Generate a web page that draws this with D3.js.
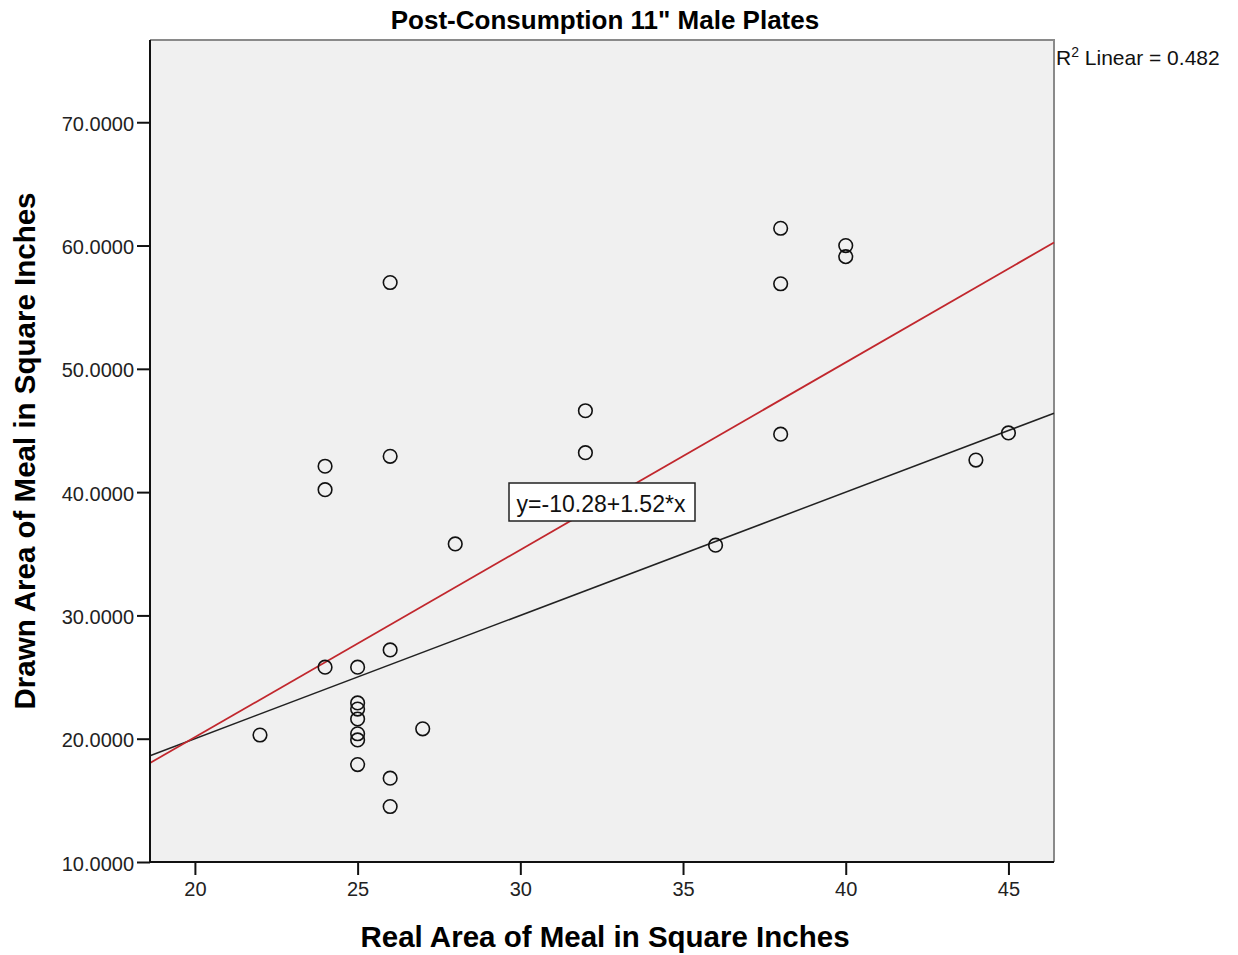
<!DOCTYPE html>
<html>
<head>
<meta charset="utf-8">
<script src="https://cdn.jsdelivr.net/npm/d3@7"></script>
<style>
  body { margin: 0; background: #fff; }
  text { font-family: "Liberation Sans", Arial, sans-serif; }
</style>
</head>
<body>
<div id="chart-area"></div>
<script>
// data
var realArea  = [22, 24, 24, 24, 25, 25, 25, 25, 25, 25, 25, 26, 26, 26, 26, 26, 27, 28, 32, 32, 36, 38, 38, 38, 40, 40, 44, 45];
var drawnArea = [20.3, 25.8, 42.1, 40.2, 25.8, 22.9, 22.4, 21.6, 20.4, 19.9, 17.9, 57.0, 42.9, 27.2, 16.8, 14.5, 20.8, 35.8, 46.6, 43.2, 35.7, 61.4, 56.9, 44.7, 60.0, 59.1, 42.6, 44.8];

var xTicks = [20, 25, 30, 35, 40, 45];
var yTicks = [10, 20, 30, 40, 50, 60, 70];

var fitIntercept = -10.28;
var fitSlope = 1.52;
var rSquared = 0.482;

var margin = { top: 40, right: 184, bottom: 93, left: 150 };
var width = 1238 - margin.left - margin.right;
var height = 955 - margin.top - margin.bottom;

var svg = d3.select('#chart-area')
    .append("svg")
        .attr("width", 1238)
        .attr("height", 955);

var g = svg.append("g")
    .attr("transform", "translate(" + margin.left + ", " + margin.top + ")");

var x = d3.scaleLinear()
    .domain([18.62, 46.4])
    .range([0, width]);

var y = d3.scaleLinear()
    .domain([10, 76.67])
    .range([height, 0]);

// plot background
g.append("rect")
    .attr("width", width)
    .attr("height", height)
    .style("fill", "#f0f0f0");

// top + right frame (grey)
g.append("path")
    .attr("d", "M0,0H" + width + "V" + height)
    .style("fill", "none")
    .style("stroke", "#8a8a8a")
    .style("stroke-width", 2);

// reference line y = x
var xd = x.domain();
g.append("line")
    .attr("x1", x(xd[0])).attr("y1", y(xd[0]))
    .attr("x2", x(xd[1])).attr("y2", y(xd[1]))
    .style("stroke", "#222")
    .style("stroke-width", 1.5);

// fit line
g.append("line")
    .attr("x1", x(xd[0])).attr("y1", y(fitIntercept + fitSlope * xd[0]))
    .attr("x2", x(xd[1])).attr("y2", y(fitIntercept + fitSlope * xd[1]))
    .style("stroke", "#c1272d")
    .style("stroke-width", 1.8);

// points
g.selectAll("circle")
    .data(realArea)
    .enter()
    .append("circle")
        .attr("cx", function(d) { return x(d); })
        .attr("cy", function(d, i) { return y(drawnArea[i]); })
        .attr("r", 6.8)
        .style("fill", "none")
        .style("stroke", "#111")
        .style("stroke-width", 1.6);

// equation label
var eq = g.append("g")
    .attr("transform", "translate(" + (509 - margin.left) + "," + (483 - margin.top) + ")");
eq.append("rect")
    .attr("width", 186)
    .attr("height", 38)
    .style("fill", "#fff")
    .style("stroke", "#222")
    .style("stroke-width", 1.5);
eq.append("text")
    .attr("x", 92)
    .attr("y", 29)
    .attr("text-anchor", "middle")
    .style("font-size", "23px")
    .style("fill", "#111")
    .text("y=" + fitIntercept.toFixed(2) + "+" + fitSlope.toFixed(2) + "*x");

// axes
var xAxisCall = d3.axisBottom(x)
    .tickValues(xTicks)
    .tickSize(13)
    .tickSizeOuter(0)
    .tickPadding(7);
var xAxis = g.append("g")
    .attr("class", "x-axis")
    .attr("transform", "translate(0, " + height + ")")
    .call(xAxisCall);

var yAxisCall = d3.axisLeft(y)
    .tickValues(yTicks)
    .tickSize(13)
    .tickSizeOuter(0)
    .tickPadding(3)
    .tickFormat(function(d) { return d3.format(".4f")(d); });
var yAxis = g.append("g")
    .attr("class", "y-axis")
    .call(yAxisCall);

[xAxis, yAxis].forEach(function(a) {
    a.select(".domain")
        .attr("d", a === xAxis ? "M0,0H" + width : "M0,0V" + height)
        .style("stroke", "#111")
        .style("stroke-width", 2);
    a.selectAll(".tick line").style("stroke", "#111").style("stroke-width", 2);
    a.selectAll("text")
        .style("font-family", "'Liberation Sans', Arial, sans-serif")
        .style("font-size", "20px")
        .style("fill", "#222");
});
yAxis.selectAll("text").attr("dy", "0.4em");

// title
svg.append("text")
    .attr("x", 605)
    .attr("y", 29)
    .attr("text-anchor", "middle")
    .style("font-size", "26px")
    .style("font-weight", "bold")
    .text("Post-Consumption 11\" Male Plates");

// R squared
var r2 = svg.append("text")
    .attr("x", 1056)
    .attr("y", 65)
    .style("font-size", "21px")
    .style("fill", "#111");
r2.append("tspan").text("R");
r2.append("tspan").attr("dy", -8).style("font-size", "14px").text("2");
r2.append("tspan").attr("dy", 8).text(" Linear = " + rSquared.toFixed(3));

// axis labels
svg.append("text")
    .attr("x", 605)
    .attr("y", 947)
    .attr("text-anchor", "middle")
    .style("font-size", "29.5px")
    .style("font-weight", "bold")
    .text("Real Area of Meal in Square Inches");

svg.append("text")
    .attr("transform", "translate(35, 451) rotate(-90)")
    .attr("text-anchor", "middle")
    .style("font-size", "29.5px")
    .style("font-weight", "bold")
    .text("Drawn Area of Meal in Square Inches");
</script>
</body>
</html>
